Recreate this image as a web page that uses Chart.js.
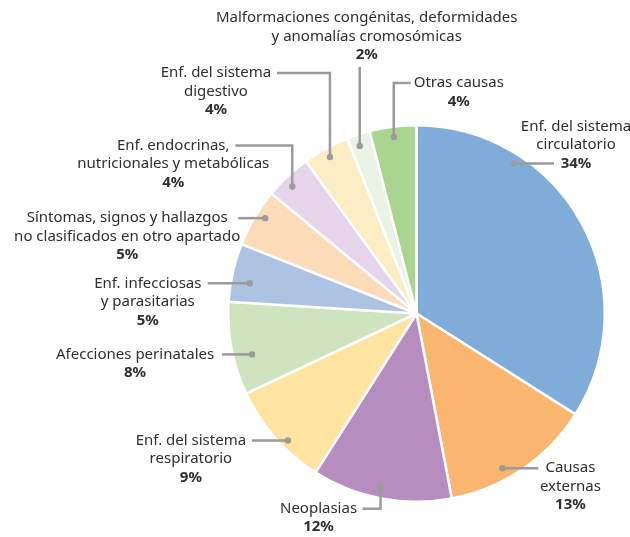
<!DOCTYPE html>
<html>
<head>
<meta charset="utf-8">
<script src="https://cdn.jsdelivr.net/npm/chart.js@4"></script>
<style>
  body { margin: 0; background: #fff; }
  canvas { display: block; }
</style>
</head>
<body>
<canvas id="pie" width="630" height="537"></canvas>
<script>
// categories (each one split in lines like the printed labels)
const categories = [
  ["Enf. del sistema", "circulatorio"],
  ["Causas", "externas"],
  ["Neoplasias"],
  ["Enf. del sistema", "respiratorio"],
  ["Afecciones perinatales"],
  ["Enf. infecciosas", "y parasitarias"],
  ["Síntomas, signos y hallazgos", "no clasificados en otro apartado"],
  ["Enf. endocrinas,", "nutricionales y metabólicas"],
  ["Enf. del sistema", "digestivo"],
  ["Malformaciones congénitas, deformidades", "y anomalías cromosómicas"],
  ["Otras causas"]
];

// percentages
const values = [34, 13, 12, 9, 8, 5, 5, 4, 4, 2, 4];

const colors = [
  "#80acd9", "#fab56f", "#b78dc0", "#fee3a1", "#cde4bf", "#adc3e2",
  "#fcdbb8", "#e6d5e8", "#fdedc5", "#ebf4e4", "#aad590"
];

// where each leader line starts in its slice and how it runs to the text
// at = fraction of slice angle, r = fraction of radius, up = vertical leg, run = horizontal leg
// tx = text centre from line end, line = which text row sits on the leader, ty = extra shift
const leaders = [
  { at: 0.27, r: 0.95, up: 0, run: 40, tx: 22, line: 2, ty: 0 },
  { at: 0.61, r: 0.94, up: 0, run: 36, tx: 32, line: 0, ty: 0 },
  { at: 0.52, r: 0.945, up: 21, run: -18, tx: -44, line: 0, ty: 0 },
  { at: 0.40, r: 0.96, up: 0, run: -36, tx: -61, line: 0, ty: 0 },
  { at: 0.39, r: 0.90, up: 0, run: -30, tx: -87, line: 0, ty: 0 },
  { at: 0.37, r: 0.90, up: 0, run: -42, tx: -60, line: 0, ty: 0 },
  { at: 0.59, r: 0.95, up: 0, run: -27, tx: -111, line: 0, ty: 0 },
  { at: 0.42, r: 0.944, up: -41, run: -57, tx: -62, line: 0, ty: 0 },
  { at: 0.49, r: 0.95, up: -84, run: -53, tx: -61, line: 0, ty: 0 },
  { at: 0.40, r: 0.94, up: -79, run: 0, tx: 7, line: 2, ty: -12 },
  { at: 0.49, r: 0.945, up: -54, run: 17, tx: 48, line: 0, ty: 0 }
];

const FONT = '"Noto Sans", sans-serif';
const lineH = 18.5;

// draws leader lines + labels next to the slices
const leaderLabels = {
  id: "leaderLabels",
  afterDraw(chart) {
    const ctx = chart.ctx;
    const arcs = chart.getDatasetMeta(0).data;
    arcs.forEach((arc, i) => {
      const L = leaders[i];
      const a = arc.startAngle + L.at * (arc.endAngle - arc.startAngle);
      const px = arc.x + Math.cos(a) * arc.outerRadius * L.r;
      const py = arc.y + Math.sin(a) * arc.outerRadius * L.r;
      const ey = py + L.up;
      const ex = px + L.run;

      ctx.save();
      ctx.strokeStyle = "#9b9b9b";
      ctx.fillStyle = "#9b9b9b";
      ctx.lineWidth = 2.5;
      ctx.beginPath();
      ctx.moveTo(px, py);
      ctx.lineTo(px, ey);
      ctx.lineTo(ex, ey);
      ctx.stroke();
      ctx.beginPath();
      ctx.arc(px, py, 3.2, 0, Math.PI * 2);
      ctx.fill();

      // text block
      const rows = categories[i].concat([values[i] + "%"]);
      const cx = ex + L.tx;
      const y0 = ey + L.ty - L.line * lineH;
      ctx.textAlign = "center";
      ctx.textBaseline = "middle";
      ctx.fillStyle = "#2f2f2f";
      rows.forEach((t, k) => {
        const last = k === rows.length - 1;
        ctx.font = (last ? "bold " : "") + "15px " + FONT;
        ctx.fillText(t, cx, y0 + k * lineH);
      });
      ctx.restore();
    });
  }
};

new Chart(document.getElementById("pie"), {
  type: "pie",
  data: {
    labels: categories.map((c) => c.join(" ")),
    datasets: [{
      data: values,
      backgroundColor: colors,
      borderColor: "#ffffff",
      borderWidth: 2.5
    }]
  },
  options: {
    responsive: false,
    animation: false,
    layout: { padding: { left: 227, right: 24, top: 124, bottom: 34 } },
    plugins: {
      legend: { display: false },
      tooltip: { enabled: false }
    }
  },
  plugins: [leaderLabels]
});
</script>
</body>
</html>
